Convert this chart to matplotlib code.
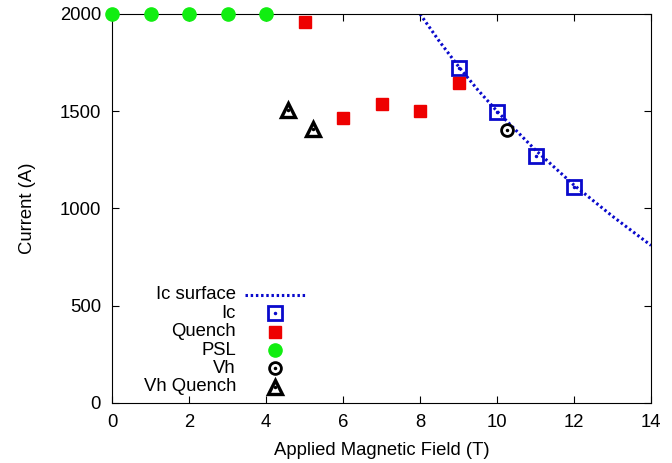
import matplotlib
matplotlib.use("Agg")
import matplotlib.pyplot as plt

plt.rcParams['font.family'] = ['Liberation Sans', 'DejaVu Sans']

# Ic surface
surf_b = [8, 8.5, 9, 9.5, 10, 10.5, 11, 11.5, 12, 12.5, 13, 13.5, 14]
surf_i = [2000, 1860, 1730, 1610, 1500, 1400, 1300, 1210, 1120, 1040, 960, 885, 810]

ic_b = [9, 10, 11, 12]
ic_i = [1722, 1496, 1270, 1108]

quench_b = [5, 6, 7, 8, 9]
quench_i = [1958, 1465, 1537, 1501, 1646]

psl_b = [0, 1, 2, 3, 4]
psl_i = [2000, 2000, 2000, 2000, 2000]

vh_b = [10.26]
vh_i = [1404]

vhq_b = [4.57, 5.22]
vhq_i = [1506, 1408]

labels = ['Ic surface', 'Ic', 'Quench', 'PSL', 'Vh', 'Vh Quench']

blue = '#0a0acc'
line_style = dict(color=blue, ls=(0, (0.8, 0.9)), lw=2.2)
ic_style = dict(marker='s', ms=10, mfc='none', mec=blue, mew=2)
dot_blue = dict(marker='.', ms=3, color=blue)
q_style = dict(marker='s', ms=8.5, color='#ee0000')
psl_style = dict(marker='o', ms=9.5, color='#11ee11')
vh_style = dict(marker='o', ms=8.5, mfc='none', mec='black', mew=2)
vq_style = dict(marker='^', ms=9.5, mfc='none', mec='black', mew=2.4)
dot_black = dict(marker='.', ms=3, color='black')

fs = 13.3

fig = plt.figure(figsize=(6.72, 4.63), dpi=100)
ax = fig.add_axes([0.1667, 0.1296, 0.8021, 0.8402])

ax.plot(surf_b, surf_i, **line_style)
ax.plot(ic_b, ic_i, ls='none', **ic_style)
ax.plot(ic_b, ic_i, ls='none', **dot_blue)
ax.plot(quench_b, quench_i, ls='none', **q_style)
ax.plot(psl_b, psl_i, ls='none', clip_on=False, zorder=5, **psl_style)
ax.plot(vh_b, vh_i, ls='none', **vh_style)
ax.plot(vh_b, vh_i, ls='none', **dot_black)
ax.plot(vhq_b, vhq_i, ls='none', **vq_style)
ax.plot(vhq_b, vhq_i, ls='none', **dot_black)

ax.set_xlim(0, 14)
ax.set_ylim(0, 2000)
ax.set_xticks(range(0, 15, 2))
ax.set_yticks(range(0, 2001, 500))
ax.tick_params(direction='in', top=True, right=True, length=5, labelsize=fs)
ax.tick_params(axis='x', pad=8)
ax.tick_params(axis='y', pad=8)
ax.set_xlabel('Applied Magnetic Field (T)', fontsize=fs, labelpad=8)
ax.set_ylabel('Current (A)', fontsize=fs, labelpad=17)

# gnuplot-style key: right-aligned text, sample to the right
keys = [[line_style], [ic_style, dot_blue], [q_style], [psl_style],
        [vh_style, dot_black], [vq_style, dot_black]]
tr = ax.transAxes
for k, (lab, styles) in enumerate(zip(labels, keys)):
    y = 0.278 - k * 0.0473
    ax.text(0.230, y, lab, transform=tr, ha='right', va='center', fontsize=fs)
    for st in styles:
        if 'marker' in st:
            ax.plot([0.302], [y], transform=tr, ls='none', clip_on=False, **st)
        else:
            ax.plot([0.247, 0.358], [y, y], transform=tr, clip_on=False, **st)

fig.savefig('out.png', dpi=100)
